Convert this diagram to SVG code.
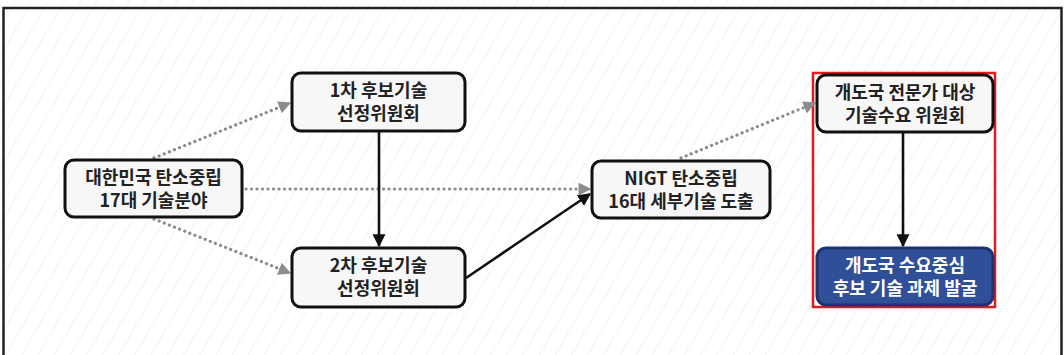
<svg xmlns="http://www.w3.org/2000/svg" width="1064" height="355" viewBox="0 0 1064 355">
<defs>
<pattern id="hatch" width="14" height="14" patternUnits="userSpaceOnUse" patternTransform="rotate(30)">
<rect width="14" height="14" fill="#ffffff"/>
<line x1="0" y1="0" x2="0" y2="14" stroke="#eeeeee" stroke-width="1.5"/>
</pattern>
<marker id="ag" viewBox="0 0 10 10" refX="9" refY="5" markerWidth="4" markerHeight="4" orient="auto" markerUnits="strokeWidth">
<path d="M0,0 L10,5 L0,10 Z" fill="#8c8c8c"/>
</marker>
<marker id="ab" viewBox="0 0 10 10" refX="9" refY="5" markerWidth="5" markerHeight="5" orient="auto" markerUnits="strokeWidth">
<path d="M0,0 L10,5 L0,10 Z" fill="#111"/>
</marker>
<style>
.node rect{fill:#f7f7f7;stroke:#111;stroke-width:3}
.node text{font-family:"Noto Sans CJK KR","Noto Sans",sans-serif;font-weight:bold;font-size:18px;fill:#222;text-anchor:middle}
.blue rect{fill:#2f4f99;stroke:#1e3370;stroke-width:3}
.blue text{fill:#ffffff}
.dot{stroke:#8c8c8c;stroke-width:3.2;stroke-dasharray:0.1 5.4;stroke-linecap:round;fill:none}
.solid{stroke:#111;stroke-width:2.6;fill:none}
</style>
</defs>
<rect x="0" y="0" width="1064" height="355" fill="url(#hatch)"/>
<path d="M3.5,355 V8 H1061.5 V355" fill="none" stroke="#222" stroke-width="2.5"/>
<rect x="813" y="73" width="182" height="234" fill="none" stroke="#e01b1b" stroke-width="2.5"/>
<g id="connectors">
<line class="dot" x1="154" y1="158" x2="290" y2="103" marker-end="url(#ag)"/>
<line class="dot" x1="154" y1="219" x2="290" y2="273" marker-end="url(#ag)"/>
<line class="dot" x1="246" y1="189" x2="590" y2="189" marker-end="url(#ag)"/>
<line class="dot" x1="681" y1="158" x2="815" y2="103" marker-end="url(#ag)"/>
<line class="solid" x1="379" y1="131" x2="379" y2="246" marker-end="url(#ab)"/>
<line class="solid" x1="466" y1="278" x2="590" y2="194" marker-end="url(#ab)"/>
<line class="solid" x1="903" y1="132" x2="903" y2="246" marker-end="url(#ab)"/>
</g>
<g id="n1" class="node">
<rect x="65" y="160" width="177" height="57" rx="9"/>
<text x="153.5" y="183.5">대한민국 탄소중립</text>
<text x="153.5" y="207">17대 기술분야</text>
</g>
<g id="n2" class="node">
<rect x="292" y="73" width="173" height="58" rx="9"/>
<text x="378.5" y="96.5">1차 후보기술</text>
<text x="378.5" y="120">선정위원회</text>
</g>
<g id="n3" class="node">
<rect x="292" y="248" width="173" height="59" rx="9"/>
<text x="378.5" y="271.5">2차 후보기술</text>
<text x="378.5" y="295">선정위원회</text>
</g>
<g id="n4" class="node">
<rect x="592" y="161" width="178" height="57" rx="9"/>
<text x="681" y="184.5">NIGT 탄소중립</text>
<text x="681" y="208">16대 세부기술 도출</text>
</g>
<g id="n5" class="node">
<rect x="817" y="75" width="176" height="57" rx="9"/>
<text x="905" y="98.5">개도국 전문가 대상</text>
<text x="905" y="122">기술수요 위원회</text>
</g>
<g id="n6" class="node blue">
<rect x="817" y="248" width="176" height="57" rx="9"/>
<text x="905" y="271.5">개도국 수요중심</text>
<text x="905" y="295">후보 기술 과제 발굴</text>
</g>
</svg>
